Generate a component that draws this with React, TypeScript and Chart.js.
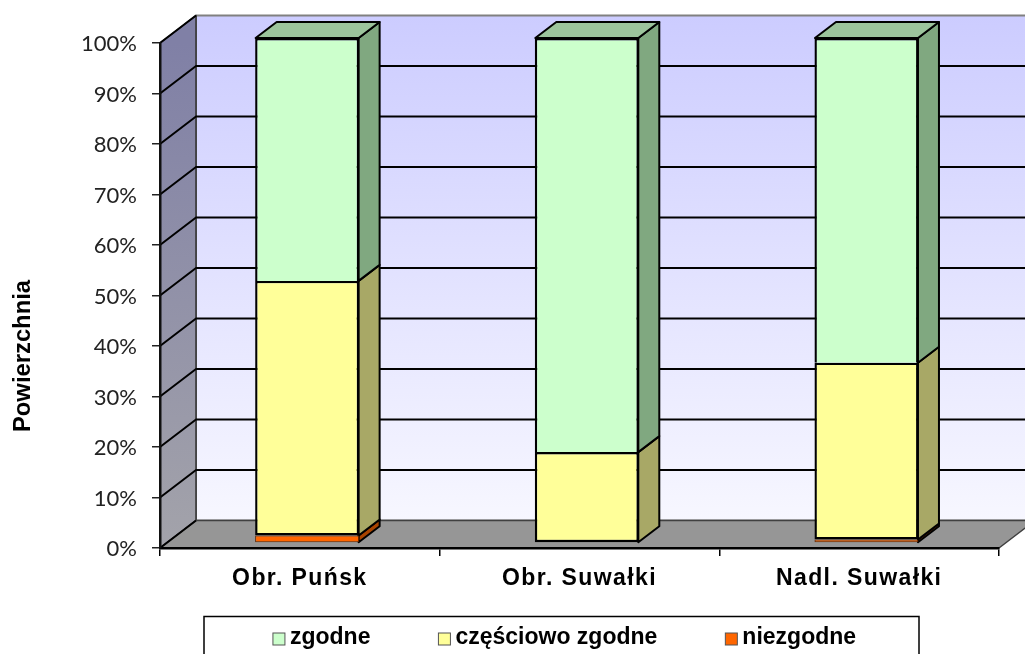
import React, { useEffect, useRef } from "react";
import { Chart, registerables } from "chart.js";

Chart.register(...registerables);

const categories = ["Obr. Puńsk", "Obr. Suwałki", "Nadl. Suwałki"];
const niezgodne = [1.5, 0, 0.7];
const czesciowo = [50.4, 18, 35];
const zgodne = [48.1, 82, 64.3];
const yTicksStep = 10;
const axisTitle = "Powierzchnia";
const legendOrder = [2, 1, 0];

const FONT = '"Liberation Sans", Arial, sans-serif';
const TICK_FONT = 'Lato, "Open Sans", sans-serif';
const WALL_DX = 36;
const WALL_DY = -27.5;
const BAR_DX = 7.3;
const BAR_DY = -5;
const BAR_DEPTH_X = 21;
const BAR_DEPTH_Y = -16;

const sideColors = ["#a84400", "#a8a866", "#80a880"];
const topColors = ["#c45000", "#c4c477", "#9cc49c"];

function poly(ctx: CanvasRenderingContext2D, pts: number[][], fill: any, stroke?: string, lw = 1.5) {
  ctx.beginPath();
  pts.forEach((p, i) => (i ? ctx.lineTo(p[0], p[1]) : ctx.moveTo(p[0], p[1])));
  ctx.closePath();
  if (fill) {
    ctx.fillStyle = fill;
    ctx.fill();
  }
  if (stroke) {
    ctx.strokeStyle = stroke;
    ctx.lineWidth = lw;
    ctx.lineJoin = "round";
    ctx.stroke();
  }
}

const wallsPlugin = {
  id: "walls",
  beforeDraw(chart: any) {
    const { ctx, chartArea: a, scales } = chart;
    const y = scales.y;
    const x = scales.x;
    if (!x.__spaced) {
      const orig = x.drawLabels.bind(x);
      x.drawLabels = (area: any) => {
        ctx.save();
        ctx.letterSpacing = "1.4px";
        orig(area);
        ctx.restore();
      };
      x.__spaced = true;
    }
    ctx.save();
    const backGrad = ctx.createLinearGradient(0, a.top + WALL_DY, 0, a.bottom + WALL_DY);
    backGrad.addColorStop(0, "#ccccff");
    backGrad.addColorStop(1, "#f7f7ff");
    poly(ctx, [
      [a.left + WALL_DX, a.top + WALL_DY],
      [a.right + WALL_DX, a.top + WALL_DY],
      [a.right + WALL_DX, a.bottom + WALL_DY],
      [a.left + WALL_DX, a.bottom + WALL_DY],
    ], backGrad, "#808080", 2);
    const sideGrad = ctx.createLinearGradient(0, a.top, 0, a.bottom);
    sideGrad.addColorStop(0, "#8080a6");
    sideGrad.addColorStop(1, "#a3a3aa");
    poly(ctx, [
      [a.left, a.top],
      [a.left + WALL_DX, a.top + WALL_DY],
      [a.left + WALL_DX, a.bottom + WALL_DY],
      [a.left, a.bottom],
    ], sideGrad, "#303030", 1.5);
    poly(ctx, [
      [a.left, a.bottom],
      [a.right, a.bottom],
      [a.right + WALL_DX, a.bottom + WALL_DY],
      [a.left + WALL_DX, a.bottom + WALL_DY],
    ], "#969696", "#404040", 1.5);
    for (const t of y.ticks) {
      const py = y.getPixelForValue(t.value);
      ctx.beginPath();
      ctx.moveTo(a.left, py);
      ctx.lineTo(a.left + WALL_DX, py + WALL_DY);
      if (t.value > 0 && t.value < 100) ctx.lineTo(a.right + WALL_DX, py + WALL_DY);
      ctx.strokeStyle = "#000";
      ctx.lineWidth = 2;
      ctx.stroke();
    }
    ctx.restore();
  },
  beforeDatasetsDraw(chart: any) {
    const { ctx, data } = chart;
    ctx.save();
    data.datasets.forEach((_: any, d: number) => {
      const meta = chart.getDatasetMeta(d);
      meta.data.forEach((el: any, i: number) => {
        if (!data.datasets[d].data[i]) return;
        const p = el.getProps(["x", "y", "base", "width"], true);
        const xr = p.x + p.width / 2 + BAR_DX - 0.5;
        const xl = p.x - p.width / 2 + BAR_DX + 0.5;
        const yt = p.y + BAR_DY;
        const yb = p.base + BAR_DY;
        poly(ctx, [
          [xr, yt],
          [xr + BAR_DEPTH_X, yt + BAR_DEPTH_Y],
          [xr + BAR_DEPTH_X, yb + BAR_DEPTH_Y],
          [xr, yb],
        ], sideColors[d], "#000", 2);
        if (d === data.datasets.length - 1) {
          poly(ctx, [
            [xl, yt],
            [xl + BAR_DEPTH_X, yt + BAR_DEPTH_Y],
            [xr + BAR_DEPTH_X, yt + BAR_DEPTH_Y],
            [xr, yt],
          ], topColors[d], "#000", 2);
        }
      });
    });
    ctx.restore();
  },
  beforeDatasetDraw(chart: any) {
    chart.ctx.save();
    chart.ctx.translate(BAR_DX, BAR_DY);
  },
  afterDatasetDraw(chart: any) {
    chart.ctx.restore();
  },
  afterDraw(chart: any) {
    const { ctx, data, height } = chart;
    ctx.save();
    // axis title
    ctx.save();
    ctx.translate(23, 356);
    ctx.rotate(-Math.PI / 2);
    ctx.font = `bold 23.8px ${FONT}`;
    ctx.fillStyle = "#000";
    ctx.textAlign = "center";
    ctx.textBaseline = "middle";
    ctx.fillText(axisTitle, 0, 0);
    ctx.restore();
    // legend
    const boxL = 204, boxR = 919, boxT = 616.5;
    ctx.strokeStyle = "#000";
    ctx.lineWidth = 1.5;
    ctx.strokeRect(boxL, boxT, boxR - boxL, height + 10 - boxT);
    ctx.font = `bold 23px ${FONT}`;
    ctx.textBaseline = "middle";
    ctx.textAlign = "left";
    const swatch = 12, gapText = 5, gapItem = 68;
    const widths = legendOrder.map((d) => ctx.measureText(data.datasets[d].label).width);
    const total = widths.reduce((s: number, w: number) => s + w + swatch + gapText, 0) + gapItem * 2;
    let x = (boxL + boxR) / 2 + 3 - total / 2;
    legendOrder.forEach((d, i) => {
      ctx.fillStyle = data.datasets[d].backgroundColor;
      ctx.fillRect(x, 633, swatch, swatch);
      ctx.strokeStyle = "#555";
      ctx.lineWidth = 1;
      ctx.strokeRect(x, 633, swatch, swatch);
      ctx.fillStyle = "#000";
      ctx.fillText(data.datasets[d].label, x + swatch + gapText, 638);
      x += swatch + gapText + widths[i] + gapItem;
    });
    ctx.restore();
  },
};

export default function App() {
  const ref = useRef<HTMLCanvasElement>(null);
  useEffect(() => {
    document.body.style.margin = "0";
    const common = {
      borderColor: "#000",
      borderWidth: 2.4,
      borderSkipped: false,
      categoryPercentage: 1,
      barPercentage: 104 / 279.67,
    };
    const chart = new Chart(ref.current!, {
      type: "bar",
      data: {
        labels: categories,
        datasets: [
          { label: "niezgodne", data: niezgodne, backgroundColor: "#ff6600", ...common, borderWidth: 1, borderColor: "#5a2400" },
          { label: "częściowo zgodne", data: czesciowo, backgroundColor: "#ffff99", ...common },
          { label: "zgodne", data: zgodne, backgroundColor: "#ccffcc", ...common, borderSkipped: "start" },
        ],
      } as any,
      options: {
        responsive: false,
        animation: false,
        layout: { autoPadding: false, padding: { top: 43, right: 26, left: 0, bottom: 0 } },
        plugins: { legend: { display: false }, title: { display: false }, tooltip: { enabled: false } },
        scales: {
          x: {
            stacked: true,
            afterFit: (s: any) => { s.height = 106; },
            grid: { offset: true, drawOnChartArea: false, drawTicks: true, tickLength: 8, color: "#000", lineWidth: 1.5 },
            border: { color: "#000", width: 2.5 },
            ticks: { padding: 9, color: "#000", font: { family: FONT, size: 23, weight: "bold" }, maxRotation: 0 },
          },
          y: {
            stacked: true,
            min: 0,
            max: 100,
            afterFit: (s: any) => { s.width = 160; },
            grid: { drawOnChartArea: false, drawTicks: true, tickLength: 8, color: "#222", lineWidth: 1.5 },
            border: { color: "#111", width: 2.5 },
            ticks: {
              stepSize: yTicksStep,
              padding: 15,
              labelOffset: 1,
              color: "#222",
              font: { family: TICK_FONT, size: 22 },
              callback: (v: any) => v + "%",
            },
          },
        },
      } as any,
      plugins: [wallsPlugin],
    });
    return () => chart.destroy();
  }, []);
  return (
    <canvas
      ref={ref}
      width={1025}
      height={654}
      style={{ display: "block", width: 1025, height: 654 }}
    />
  );
}
